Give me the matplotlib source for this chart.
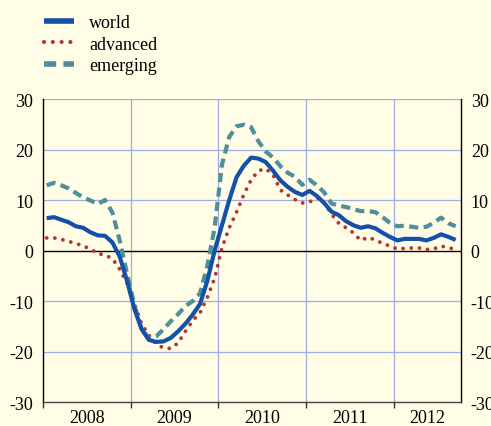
import numpy as np
import matplotlib
matplotlib.use("Agg")
import matplotlib.pyplot as plt

# monthly values, Jan 2008 .. Sep 2012
world = [6.4, 6.6, 6.1, 5.6, 4.8, 4.5, 3.6, 3.0, 2.9, 1.6, -1.2, -6.0,
         -11.5, -15.6, -17.7, -18.1, -18.0, -17.3, -16.0, -14.5, -12.7, -10.6, -6.0, 0.0,
         5.0, 10.0, 14.5, 16.8, 18.4, 18.2, 17.5, 15.8, 13.9, 12.6, 11.6, 11.0,
         11.8, 10.8, 9.4, 7.7, 7.0, 5.8, 5.0, 4.5, 4.8, 4.4, 3.5, 2.7,
         2.0, 2.3, 2.3, 2.3, 2.0, 2.5, 3.2, 2.7, 2.1]
advanced = [2.5, 2.5, 2.2, 1.8, 1.4, 0.9, 0.3, -0.6, -0.9, -1.6, -3.7, -6.5,
            -10.5, -14.5, -16.8, -18.5, -19.3, -19.4, -18.3, -16.0, -13.9, -12.3, -9.3, -5.5,
            0.5, 4.5, 7.6, 11.1, 14.0, 15.8, 16.2, 15.0, 12.0, 11.0, 10.1, 9.4,
            9.6, 10.5, 9.5, 7.2, 5.4, 4.5, 3.5, 2.0, 2.6, 2.1, 1.4, 0.9,
            0.3, 0.4, 0.5, 0.5, 0.2, 0.3, 0.9, 0.5, 0.3]
emerging = [12.9, 13.4, 12.9, 12.3, 11.4, 10.5, 9.9, 9.2, 10.0, 7.5, 2.0, -4.5,
            -10.8, -15.5, -17.4, -17.0, -15.6, -14.0, -12.6, -11.0, -10.0, -8.5, -3.0, 4.5,
            17.0, 22.5, 24.6, 24.9, 24.4, 21.6, 19.6, 18.4, 16.7, 15.4, 14.6, 13.0,
            14.0, 12.9, 11.5, 9.3, 8.9, 8.6, 8.2, 7.8, 7.8, 7.6, 6.6, 5.5,
            4.8, 4.9, 4.7, 4.5, 4.7, 5.5, 6.5, 5.4, 4.8]
years = [2008, 2009, 2010, 2011, 2012]

bg = '#fffde6'
x = 2008 + (np.arange(len(world)) + 0.5) / 12.0

plt.rcParams['font.family'] = ['Liberation Serif', 'DejaVu Serif']
fig = plt.figure(figsize=(4.91, 4.27), dpi=100, facecolor=bg)
ax = fig.add_axes([0.0876, 0.0562, 0.8514, 0.7096], facecolor=bg)

grid_c = '#a0acdf'
for yv in [-20, -10, 10, 20, 30]:
    ax.axhline(yv, color=grid_c, lw=0.9, zorder=1)
for yr in years[1:]:
    ax.axvline(yr, color=grid_c, lw=0.9, zorder=1)
ax.axhline(0, color='black', lw=1.0, zorder=2)

l1, = ax.plot(x, world, color='#1450a8', lw=3.0, solid_capstyle='butt', zorder=4, label='world')
l2, = ax.plot(x, advanced, color='#b5372e', lw=2.8, linestyle=(0, (0.01, 2.1)),
              dash_capstyle='round', zorder=3, label='advanced')
l3, = ax.plot(x, emerging, color='#4f8e9c', lw=3.0, linestyle=(0, (2.2, 1.3)),
              zorder=3, label='emerging')

ax.set_xlim(2008, 2012.77)
ax.set_ylim(-30, 30)
ax.set_yticks([-30, -20, -10, 0, 10, 20, 30])
ax.set_yticklabels(['-30', '-20', '-10', '0', '10', '20', '30'])
ax.tick_params(axis='y', length=0, pad=7, labelsize=13, right=True, labelright=True)

ax.set_xticks(years)
ax.set_xticklabels([])
ax.set_xticks([yr + 0.5 for yr in years[:-1]] + [2012.39], minor=True)
ax.set_xticklabels([str(yr) for yr in years], minor=True)
ax.tick_params(axis='x', which='major', direction='out', length=4, width=1, color='#333333')
ax.tick_params(axis='x', which='minor', length=0, pad=5, labelsize=13)

ax.spines['top'].set_visible(False)
ax.spines['left'].set_color('black')
ax.spines['right'].set_color('black')
ax.spines['bottom'].set_color('#444444')
for s in ['left', 'right', 'bottom']:
    ax.spines[s].set_linewidth(1.0)

leg = fig.legend(handles=[l1, l2, l3], loc='upper left', bbox_to_anchor=(0.068, 0.99),
                 frameon=False, fontsize=13, handlelength=1.65, handletextpad=0.85,
                 labelspacing=0.25, borderaxespad=0.2)
for h in leg.legend_handles:
    h.set_linewidth(4.0 if h.get_label() != 'advanced' else 3.0)

fig.savefig('out.png', dpi=100, facecolor=bg)
